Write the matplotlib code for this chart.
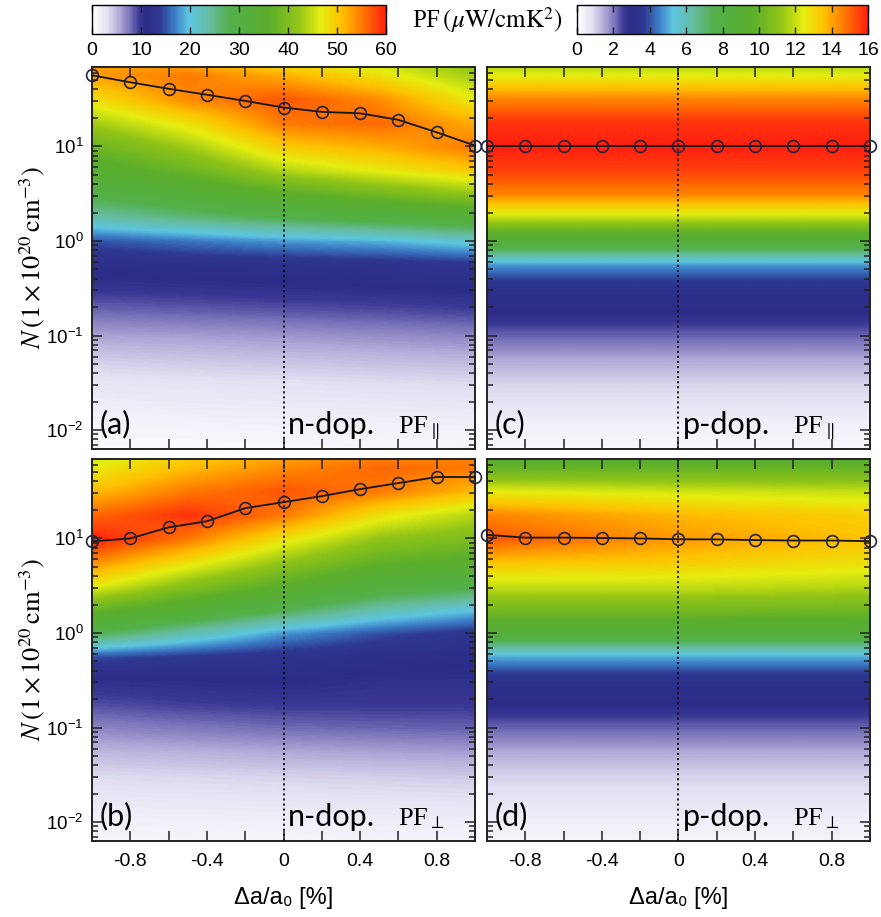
import numpy as np
import matplotlib
matplotlib.use('Agg')
import matplotlib.pyplot as plt
from matplotlib.colors import LinearSegmentedColormap
from matplotlib.ticker import FixedLocator, NullFormatter
import matplotlib.cm as cm

plt.rcParams['mathtext.fontset'] = 'stix'
plt.rcParams['font.family'] = ['Liberation Sans', 'DejaVu Sans']

# ---------------- data ----------------
strain = [-1.0, -0.8, -0.6, -0.4, -0.2, 0.0, 0.2, 0.4, 0.6, 0.8, 1.0]
N_opt_a = [56.5, 47.7, 40.7, 35.2, 30.3, 25.8, 23.2, 22.4, 19.1, 14.1, 10.2]
N_opt_b = [9.3, 10.0, 13.1, 15.2, 20.9, 24.2, 28.0, 33.2, 38.5, 44.6, 44.6]
N_opt_c = [10.0, 10.0, 10.0, 10.0, 10.0, 10.0, 10.0, 10.0, 10.0, 10.0, 10.0]
N_opt_d = [10.9, 10.2, 10.2, 10.1, 10.0, 9.8, 9.76, 9.6, 9.5, 9.5, 9.35]

# background maps: PF values read at (strain column, log10 N row)
grid_logN = [-2.25, -2.0, -1.5, -1.25, -1.0, -0.75, -0.5, -0.25, 0.0,
             0.25, 0.5, 0.75, 1.0, 1.25, 1.5, 1.75, 1.9]
cols_ab = [-1.0, -0.5, 0.0, 0.5, 1.0]
pf_a = [
    [0.5, 1.0, 2.6, 4.0, 5.8, 8.0, 10, 11.5, 15, 23, 29, 34, 38, 43, 48, 53, 53],
    [0.6, 1.1, 2.8, 4.3, 6.0, 8.3, 10.2, 11.8, 16.5, 25.5, 32, 38, 43, 48, 54, 55, 52],
    [0.7, 1.2, 3.0, 4.5, 6.3, 8.6, 10.5, 12, 18, 28, 36, 44, 50, 55, 57, 52, 48],
    [0.8, 1.3, 3.2, 4.8, 6.6, 8.9, 10.7, 12.5, 19, 30, 39, 47, 52, 56, 54, 48, 45],
    [0.9, 1.4, 3.4, 5.0, 7.0, 9.3, 11, 13, 21, 32, 42, 50, 55, 52, 47, 43, 41],
]
pf_b = [
    [0.9, 1.4, 3.4, 5.0, 7.0, 9.0, 10.5, 15, 28, 38, 47, 54, 60, 56, 51, 47, 45],
    [1.0, 1.5, 3.6, 5.3, 7.5, 9.5, 10.8, 13.5, 23, 33, 41, 48, 55, 59, 55, 51, 49],
    [1.1, 1.6, 3.8, 5.6, 8.0, 9.8, 11, 12.5, 18, 28, 36, 42, 48, 55, 57, 54, 52],
    [1.2, 1.7, 4.0, 5.9, 8.2, 9.8, 10.5, 11.5, 15, 23, 31, 37, 42, 48, 55, 56, 54],
    [1.2, 1.8, 4.2, 6.1, 8.4, 9.8, 10.5, 11, 13, 20, 29, 35, 40, 44, 51, 55, 54],
]
cols_cd = [-1.0, 0.0, 1.0]
pf_c = [
    [0.2, 0.35, 1.0, 1.5, 2.2, 2.9, 3.2, 4.8, 8.5, 12, 14.5, 15.5, 16, 15.7, 14.5, 12.5, 11.5],
    [0.2, 0.35, 1.0, 1.5, 2.2, 2.9, 3.2, 4.8, 8.5, 12, 14.5, 15.5, 16, 15.7, 14.5, 12.5, 11.5],
    [0.2, 0.35, 1.0, 1.5, 2.2, 2.9, 3.2, 4.8, 8.5, 12, 14.5, 15.5, 16, 15.7, 14.5, 12.5, 11.5],
]
pf_d = [
    [0.3, 0.45, 1.0, 1.5, 2.2, 2.9, 3.2, 5.0, 8.5, 10.5, 12.0, 13.5, 15.2, 14.5, 12.5, 10, 9],
    [0.3, 0.45, 1.0, 1.5, 2.2, 2.9, 3.2, 5.0, 8.5, 10.5, 12.0, 13.3, 14.2, 13.7, 12.2, 10, 9],
    [0.3, 0.45, 1.0, 1.5, 2.2, 2.9, 3.2, 5.0, 8.5, 10.3, 11.8, 12.8, 13.5, 13.2, 12.0, 10, 9],
]

cbar_left_ticks = [0, 10, 20, 30, 40, 50, 60]
cbar_right_ticks = [0, 2, 4, 6, 8, 10, 12, 14, 16]
x_ticks = [-0.8, -0.6, -0.4, -0.2, 0.0, 0.2, 0.4, 0.6, 0.8]
x_ticklabels = ['-0.8', '', '-0.4', '', '0', '', '0.4', '', '0.8']
y_ticks = [1e-2, 1e-1, 1e0, 1e1]
y_ticklabels = [r'$\mathdefault{10^{-2}}$', r'$\mathdefault{10^{-1}}$',
                r'$\mathdefault{10^{0}}$', r'$\mathdefault{10^{1}}$']

# ---------------- style ----------------
cmap = LinearSegmentedColormap.from_list('pf', [
    (0.00, '#ffffff'), (0.05, '#e4e0f2'), (0.09, '#b4acd8'), (0.13, '#7670b8'),
    (0.16, '#3a3894'), (0.18, '#2c2c88'), (0.23, '#2e3892'), (0.28, '#3c7cc6'),
    (0.33, '#5ec6e2'), (0.40, '#66bca0'), (0.47, '#52b04a'), (0.60, '#5aae2c'),
    (0.70, '#90c418'), (0.78, '#e6ee10'), (0.85, '#ffc000'), (0.92, '#ff7800'),
    (1.00, '#ff2010')])

W, H = 881, 917
fig = plt.figure(figsize=(W / 100, H / 100), dpi=100)

def fr(x0, y0, x1, y1):
    return [x0 / W, 1 - y1 / H, (x1 - x0) / W, (y1 - y0) / H]

panels = {
    'a': dict(rect=fr(92, 67, 475, 449), cols=cols_ab, vals=pf_a, vmax=60, line=N_opt_a,
              lab='(a)', dop='n-dop.', pf=r'PF$_{\parallel}$'),
    'c': dict(rect=fr(487, 67, 870, 449), cols=cols_cd, vals=pf_c, vmax=16, line=N_opt_c,
              lab='(c)', dop='p-dop.', pf=r'PF$_{\parallel}$'),
    'b': dict(rect=fr(92, 459, 475, 841), cols=cols_ab, vals=pf_b, vmax=60, line=N_opt_b,
              lab='(b)', dop='n-dop.', pf=r'PF$_{\perp}$'),
    'd': dict(rect=fr(487, 459, 870, 841), cols=cols_cd, vals=pf_d, vmax=16, line=N_opt_d,
              lab='(d)', dop='p-dop.', pf=r'PF$_{\perp}$'),
}

xs = np.linspace(-1, 1, 241)
ls = np.linspace(-2.25, 1.9, 400)

for key, p in panels.items():
    ax = fig.add_axes(p['rect'])
    vals = np.array(p['vals'], dtype=float)
    prof = np.array([np.interp(ls, grid_logN, v) for v in vals])  # (ncol, nl)
    Z = np.array([np.interp(xs, p['cols'], prof[:, i]) for i in range(len(ls))])
    ax.pcolormesh(xs, 10 ** ls, Z, cmap=cmap, vmin=0, vmax=p['vmax'],
                  shading='gouraud', rasterized=True)
    ax.axvline(0, color='#111111', lw=1.3, ls=(0, (1.2, 1.6)), zorder=3)
    ax.plot(strain, p['line'], '-', color='#151515', lw=1.3, marker='o', ms=8.5,
            mfc='none', mec='#22223a', mew=1.2, clip_on=False, zorder=6)
    ax.set_yscale('log')
    ax.set_xlim(-1, 1)
    ax.set_ylim(10 ** -2.2, 10 ** 1.84)
    ax.xaxis.set_major_locator(FixedLocator(x_ticks))
    ax.yaxis.set_major_locator(FixedLocator(y_ticks))
    ax.yaxis.set_minor_locator(FixedLocator(
        [m * 10.0 ** e for e in range(-3, 2) for m in range(2, 10)]))
    ax.yaxis.set_minor_formatter(NullFormatter())
    ax.tick_params(which='both', direction='in', top=True, right=True,
                   color='#222222', width=1.1, labelsize=14)
    ax.tick_params(which='major', length=7)
    ax.tick_params(which='minor', length=4)
    for s in ax.spines.values():
        s.set_linewidth(1.4)
        s.set_color('#222222')
    if key in ('b', 'd'):
        ax.set_xticklabels(x_ticklabels)
        ax.tick_params(axis='x', pad=9)
        ax.set_xlabel('Δa/a₀ [%]', fontsize=17, labelpad=12)
    else:
        ax.set_xticklabels([])
    if key in ('a', 'b'):
        ax.set_yticklabels(y_ticklabels)
        ax.tick_params(axis='y', pad=6, labelsize=13.5)
        ax.set_ylabel(r'$N\,(1\times10^{20}\,\mathrm{cm}^{-3})$', fontsize=19)
        ax.yaxis.set_label_coords(-0.118, 0.5)
    else:
        ax.set_yticklabels([])
    ax.text(0.02, 0.04, p['lab'], transform=ax.transAxes, fontsize=22,
            family=['Lato', 'DejaVu Sans'], ha='left', va='baseline', zorder=7)
    ax.text(0.512, 0.04, p['dop'], transform=ax.transAxes, fontsize=22,
            family=['Lato', 'DejaVu Sans'], ha='left', va='baseline', zorder=7)
    ax.text(0.80, 0.04, p['pf'], transform=ax.transAxes, fontsize=19,
            family=['Liberation Serif', 'DejaVu Serif'], ha='left', va='baseline', zorder=7)

# colorbars
for rect, vmax, ticks in [(fr(92, 5, 386, 34), 60, cbar_left_ticks),
                          (fr(577, 5, 868, 34), 16, cbar_right_ticks)]:
    cax = fig.add_axes(rect)
    sm = cm.ScalarMappable(cmap=cmap, norm=plt.Normalize(0, vmax))
    cb = fig.colorbar(sm, cax=cax, orientation='horizontal', ticks=ticks)
    cb.outline.set_linewidth(1.0)
    cax.tick_params(direction='in', top=True, bottom=True, length=5, width=1.0,
                    labelsize=14, pad=6, color='#222222')
    cax.minorticks_off()

fig.text(487 / W, 1 - 20 / H, r'PF$\,(\mu\mathrm{W/cmK}^2)$', fontsize=18,
         family=['Liberation Serif', 'DejaVu Serif'], ha='center', va='center')

fig.savefig('out.png', dpi=100)
